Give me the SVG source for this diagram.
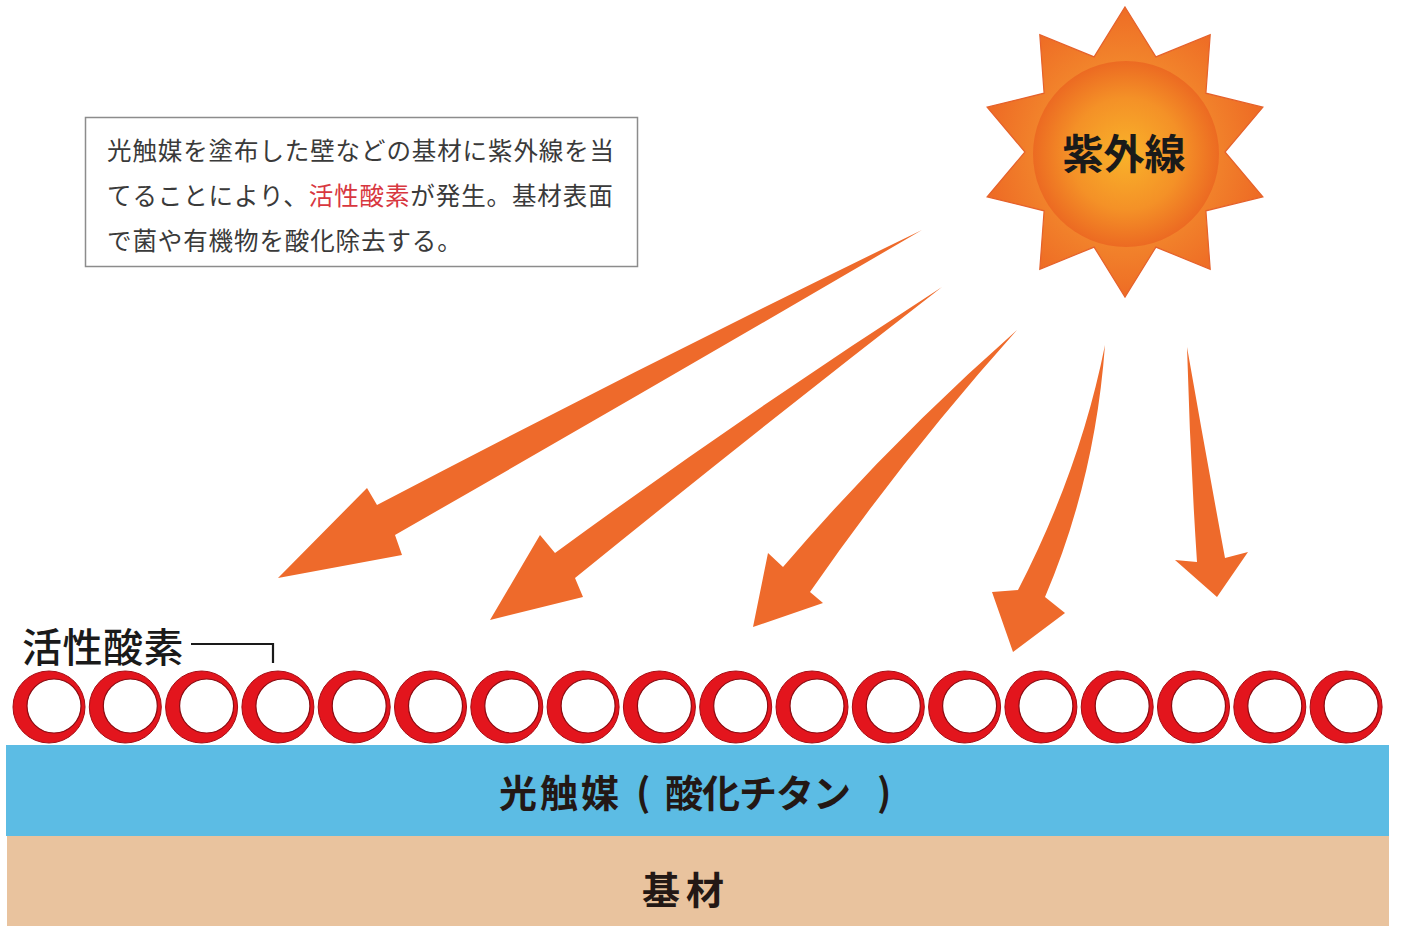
<svg xmlns="http://www.w3.org/2000/svg" width="1401" height="926" viewBox="0 0 1401 926">
  <style>
    .jp { font-family: "Noto Sans CJK JP", "Noto Sans", sans-serif; }
    .note { font-size: 24.5px; fill: #3a3a3a; letter-spacing: 0.9px; }
    .hl { fill: #d8373f; }
    .label { font-size: 38px; font-weight: 700; fill: #231815; }
    .ray { fill: #ee6a2b; }
    .ball { fill: #e3151d; stroke: #a50d14; stroke-width: 1; }
    .hole { fill: #ffffff; stroke: #8a0c12; stroke-width: 1.2; }
  </style>
  <defs>
    <radialGradient id="sunDisc" cx="0.5" cy="0.5" r="0.5">
      <stop offset="0" stop-color="#f9b22a"/>
      <stop offset="0.6" stop-color="#f49127"/>
      <stop offset="1" stop-color="#ec6a22"/>
    </radialGradient>
    <radialGradient id="sunRays" cx="0.5" cy="0.5" r="0.5">
      <stop offset="0.6" stop-color="#f2862c"/>
      <stop offset="1" stop-color="#ee6c25"/>
    </radialGradient>
    <g id="oxygen">
      <circle class="ball" cx="0" cy="0" r="36"/>
      <circle class="hole" cx="5" cy="-1" r="27"/>
    </g>
  </defs>

  <rect width="1401" height="926" fill="#ffffff"/>

  <!-- substrate layers -->
  <g id="substrate">
    <rect x="7" y="836" width="1382" height="90" fill="#e9c39e"/>
    <text class="jp label" x="686" y="904" text-anchor="middle" letter-spacing="6">基材</text>
  </g>
  <g id="photocatalyst">
    <rect x="6" y="745" width="1383" height="91" fill="#5cbce4"/>
    <text class="jp label"><tspan x="499" y="807" letter-spacing="3">光触媒</tspan><tspan x="636" y="806">(</tspan><tspan x="665" y="807" letter-spacing="-1">酸化チタン</tspan><tspan x="877" y="806">)</tspan></text>
  </g>

  <!-- explanation box -->
  <g id="note">
    <rect x="85.5" y="117.5" width="552" height="149" fill="#ffffff" stroke="#8c8c8c" stroke-width="1.5"/>
    <text class="jp note" x="107" y="160">光触媒を塗布した壁などの基材に紫外線を当</text>
    <text class="jp note" x="107" y="205">てることにより、<tspan class="hl">活性酸素</tspan>が発生。基材表面</text>
    <text class="jp note" x="107" y="250">で菌や有機物を酸化除去する。</text>
  </g>

  <!-- sun -->
  <g id="sun">
    <polygon fill="url(#sunRays)" stroke="#e5612b" stroke-width="1.2"
      points="1125,7 1155.9,56.9 1210.2,34.7 1205.9,93.2 1262.9,107.2 1225,152 1262.9,196.8 1205.9,210.8 1210.2,269.3 1155.9,247.1 1125,297 1094.1,247.1 1039.8,269.3 1044.1,210.8 987.1,196.8 1025,152 987.1,107.2 1044.1,93.2 1039.8,34.7 1094.1,56.9"/>
    <circle cx="1126" cy="154" r="93" fill="url(#sunDisc)"/>
    <text class="jp" x="1124" y="169" text-anchor="middle" font-size="41" font-weight="700" fill="#1a1a1a">紫外線</text>
  </g>

  <!-- ultraviolet rays -->
  <g id="connectors">
    <path class="ray" d="M922,230 Q650,362 377,505 L367,488 L278,578 L402,555 L395,535 Q660,383 922,230 Z"/>
    <path class="ray" d="M942,287 Q745,414 555,553 L540,535 L490,620 L583,597 L575,578 Q760,428 942,287 Z"/>
    <path class="ray" d="M1017,330 Q890,442 783,567 L768,553 L753,627 L823,603 L810,592 Q905,455 1017,330 Z"/>
    <path class="ray" d="M1105,345 Q1080,470 1018,590 L992,592 L1013,652 L1065,613 L1045,597 Q1095,480 1105,345 Z"/>
    <path class="ray" d="M1187,347 Q1190,455 1197,562 L1175,560 L1217,597 L1248,552 L1225,558 Q1205,450 1187,347 Z"/>
  </g>

  <!-- active oxygen row -->
  <g id="active-oxygen">
    <text class="jp" x="22" y="662" font-size="40" font-weight="500" fill="#1a1a1a" letter-spacing="0.5">活性酸素</text>
    <polyline points="191,644 273,644 273,663" fill="none" stroke="#1a1a1a" stroke-width="2.2"/>
    <use href="#oxygen" x="49" y="707"/>
    <use href="#oxygen" x="125.3" y="707"/>
    <use href="#oxygen" x="201.6" y="707"/>
    <use href="#oxygen" x="277.9" y="707"/>
    <use href="#oxygen" x="354.2" y="707"/>
    <use href="#oxygen" x="430.5" y="707"/>
    <use href="#oxygen" x="506.8" y="707"/>
    <use href="#oxygen" x="583.1" y="707"/>
    <use href="#oxygen" x="659.4" y="707"/>
    <use href="#oxygen" x="735.7" y="707"/>
    <use href="#oxygen" x="812" y="707"/>
    <use href="#oxygen" x="888.3" y="707"/>
    <use href="#oxygen" x="964.6" y="707"/>
    <use href="#oxygen" x="1040.9" y="707"/>
    <use href="#oxygen" x="1117.2" y="707"/>
    <use href="#oxygen" x="1193.5" y="707"/>
    <use href="#oxygen" x="1269.8" y="707"/>
    <use href="#oxygen" x="1346.1" y="707"/>
  </g>
</svg>
